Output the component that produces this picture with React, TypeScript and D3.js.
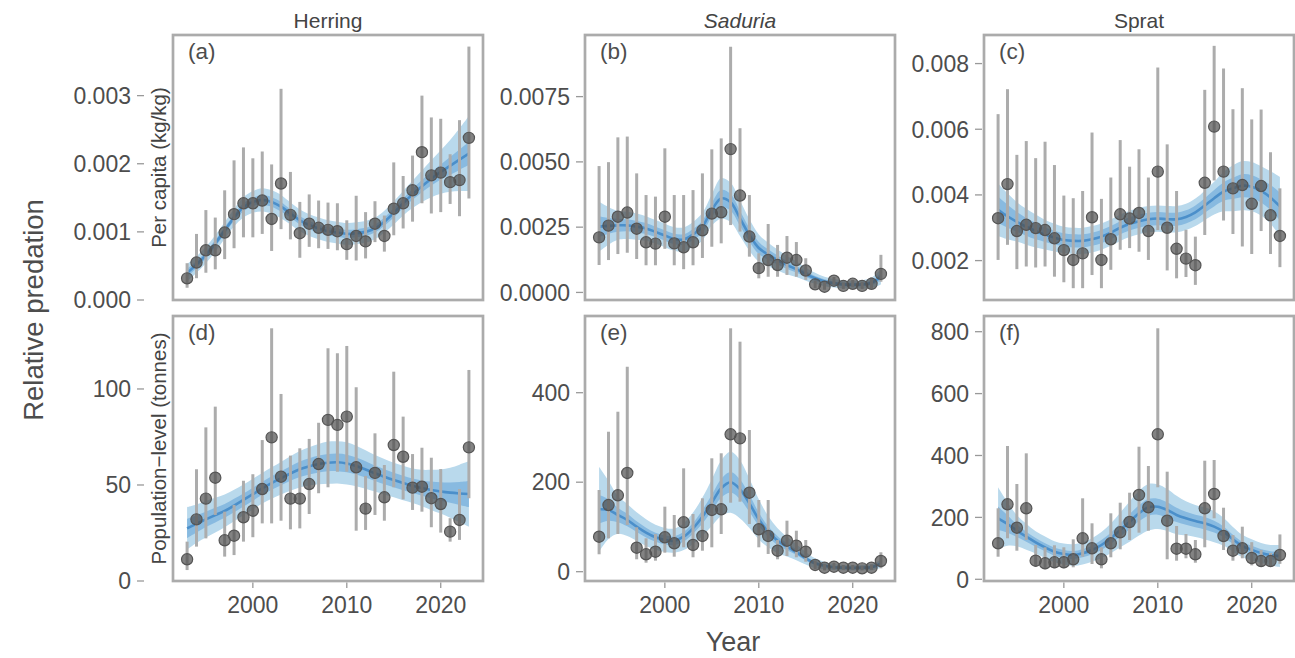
import React from 'react';
import * as d3 from 'd3';

const years = [1993,1994,1995,1996,1997,1998,1999,2000,2001,2002,2003,2004,2005,2006,2007,2008,2009,2010,2011,2012,2013,2014,2015,2016,2017,2018,2019,2020,2021,2022,2023];

const columnTitles = ['Herring', 'Saduria', 'Sprat'];
const rowTitles = ['Per capita (kg/kg)', 'Population\u2212level (tonnes)'];
const panelLetters = ['(a)', '(b)', '(c)', '(d)', '(e)', '(f)'];
const xTicks = [2000, 2010, 2020];

// (a) Herring, per capita
const aEst = [0.000318,0.00055,0.00073,0.00073,0.00099,0.00126,0.00142,0.00142,0.00146,0.00119,0.00171,0.00125,0.00098,0.00112,0.00106,0.00103,0.00101,0.00082,0.00094,0.00086,0.00112,0.00094,0.00134,0.00142,0.00161,0.00217,0.00183,0.00187,0.00173,0.00176,0.00238];
const aLo = [0.00018,0.00032,0.0004,0.00045,0.0006,0.00076,0.00092,0.00092,0.00097,0.00072,0.00104,0.00089,0.00062,0.00078,0.00076,0.00075,0.00073,0.00059,0.00058,0.00061,0.00085,0.00071,0.00095,0.00105,0.00115,0.00142,0.00127,0.00129,0.00141,0.00123,0.00149];
const aHi = [0.00054,0.00097,0.00132,0.00121,0.00161,0.00205,0.00224,0.00208,0.00218,0.00199,0.0031,0.00188,0.00144,0.00155,0.00146,0.00143,0.00142,0.00117,0.00153,0.00129,0.00145,0.00124,0.00202,0.00182,0.00212,0.003,0.00268,0.00266,0.00214,0.00264,0.00372];
const aFit = [0.0004,0.00052,0.00066,0.00083,0.00102,0.00121,0.00136,0.00144,0.00147,0.00144,0.00137,0.00127,0.00117,0.0011,0.00105,0.00101,0.00099,0.00097,0.00098,0.001,0.00105,0.00115,0.00128,0.00142,0.00155,0.00167,0.00178,0.00188,0.00197,0.00206,0.00215];
const aOuter = [0.00013,0.00012,0.00012,0.00012,0.00012,0.00013,0.00015,0.00016,0.00017,0.00017,0.00017,0.00016,0.00016,0.00016,0.00016,0.00016,0.00016,0.00016,0.00016,0.00016,0.00016,0.00016,0.00017,0.00018,0.0002,0.00023,0.00027,0.00032,0.00038,0.00046,0.00055];
const aInner = [0.00006,0.00005,0.00005,0.00005,0.00005,0.00005,0.00006,0.00006,0.00007,0.00007,0.00007,0.00006,0.00006,0.00006,0.00006,0.00006,0.00006,0.00006,0.00006,0.00006,0.00006,0.00006,0.00007,0.00007,0.00008,0.00009,0.0001,0.00011,0.00013,0.00015,0.00017];
const aTicks = [0, 0.001, 0.002, 0.003];

// (b) Saduria, per capita
const bEst = [0.00211,0.00256,0.0029,0.00306,0.00244,0.00192,0.00187,0.0029,0.00188,0.00173,0.00192,0.00238,0.00302,0.00307,0.00549,0.00371,0.00214,0.00093,0.00124,0.00105,0.00133,0.00124,0.00084,0.00031,0.00022,0.00045,0.00025,0.00033,0.00025,0.00033,0.00071];
const bLo = [0.00105,0.00124,0.00147,0.00152,0.00128,0.00104,0.00104,0.00167,0.00104,0.00089,0.00104,0.00132,0.00175,0.00188,0.00258,0.00233,0.00137,0.00054,0.0006,0.0006,0.00067,0.0006,0.00048,0.00016,0.0001,0.0003,0.00013,0.0002,0.00013,0.00015,0.00041];
const bHi = [0.00484,0.00499,0.00594,0.00597,0.00456,0.00373,0.00367,0.00552,0.00373,0.00373,0.00392,0.00456,0.00548,0.0059,0.00941,0.00629,0.00373,0.0015,0.00262,0.00182,0.00216,0.00193,0.00131,0.00045,0.0004,0.00059,0.00038,0.00048,0.0004,0.00058,0.00144];
const bFit = [0.00252,0.00255,0.00257,0.00257,0.00252,0.00245,0.00232,0.00218,0.00205,0.00203,0.00222,0.00252,0.00316,0.0036,0.00345,0.00284,0.0022,0.0017,0.00145,0.00124,0.00105,0.00089,0.0007,0.00054,0.00042,0.00035,0.00031,0.0003,0.00031,0.00037,0.0006];
const bOuter = [0.00095,0.00072,0.00055,0.00052,0.0005,0.00047,0.00045,0.00045,0.00045,0.00046,0.00048,0.00053,0.0006,0.00078,0.00075,0.00068,0.0006,0.00052,0.00045,0.0004,0.00035,0.0003,0.00025,0.00021,0.00018,0.00016,0.00015,0.00015,0.00016,0.0002,0.0003];
const bInner = [0.0004,0.0003,0.00025,0.00023,0.00022,0.00021,0.0002,0.0002,0.0002,0.0002,0.00021,0.00023,0.00026,0.00033,0.00032,0.00029,0.00026,0.00023,0.0002,0.00017,0.00015,0.00013,0.00011,0.00009,0.00008,0.00007,0.00007,0.00007,0.00007,0.00009,0.00013];
const bTicks = [0, 0.0025, 0.005, 0.0075];

// (c) Sprat, per capita
const cEst = [0.00329,0.00433,0.0029,0.00309,0.00299,0.00293,0.00268,0.00232,0.00202,0.00222,0.00332,0.00202,0.00265,0.00341,0.00328,0.00345,0.0029,0.00471,0.003,0.00236,0.00206,0.00186,0.00437,0.00608,0.00471,0.0042,0.0043,0.00373,0.00427,0.00338,0.00275];
const cLo = [0.00202,0.00248,0.00174,0.00182,0.00179,0.00182,0.00151,0.00134,0.00116,0.00116,0.00156,0.00116,0.00172,0.00233,0.00238,0.00227,0.00202,0.00293,0.0017,0.00146,0.0015,0.00126,0.00278,0.00444,0.00322,0.00281,0.00243,0.0022,0.0029,0.0022,0.0018];
const cHi = [0.00646,0.00722,0.00522,0.00564,0.00512,0.00562,0.00491,0.00398,0.0039,0.00412,0.0059,0.00388,0.00453,0.00567,0.00486,0.00539,0.00453,0.00788,0.00554,0.00412,0.00294,0.00273,0.0072,0.00854,0.00785,0.00661,0.00725,0.0063,0.0066,0.0053,0.0042];
const cFit = [0.00355,0.00335,0.00318,0.00303,0.0029,0.00279,0.0027,0.00263,0.0026,0.0026,0.00265,0.00273,0.00285,0.003,0.00312,0.0032,0.00326,0.00328,0.00326,0.00326,0.00333,0.00347,0.00368,0.0039,0.0041,0.0042,0.00428,0.00425,0.00412,0.00392,0.00365];
const cOuter = [0.0008,0.0007,0.0006,0.00055,0.0005,0.00045,0.00042,0.0004,0.0004,0.0004,0.0004,0.0004,0.0004,0.0004,0.0004,0.0004,0.0004,0.0004,0.0004,0.0004,0.0004,0.00042,0.00045,0.0005,0.0006,0.0007,0.00075,0.00075,0.00075,0.0008,0.0009];
const cInner = [0.0004,0.00035,0.0003,0.00027,0.00025,0.00022,0.00021,0.0002,0.0002,0.0002,0.0002,0.0002,0.0002,0.0002,0.0002,0.0002,0.0002,0.0002,0.0002,0.0002,0.0002,0.00021,0.00022,0.00025,0.00028,0.00032,0.00035,0.00035,0.00035,0.00038,0.00042];
const cTicks = [0.002, 0.004, 0.006, 0.008];

// (d) Herring, population level
const dEst = [11.3,32.1,42.9,53.8,21.2,23.6,33.2,36.6,47.9,74.8,54.3,42.9,42.9,50.5,60.9,83.9,81.3,85.6,59.2,37.7,56.3,43.6,70.8,64.7,48.6,49.1,43.1,40.1,25.7,31.8,69.6];
const dLo = [5.7,17.9,22.2,34.4,12.7,13.5,20.5,22.8,30,30,31.4,26.9,27.4,34.9,45.7,48.8,56.9,56.9,26.2,26.6,34.4,31.4,48.8,42.5,37,36.1,28,25.2,20.5,21.4,43.1];
const dHi = [20.5,58.2,80,90.8,36.1,39.6,52.2,55.6,73.4,131.6,97.4,65.3,69.1,74,82.4,121.2,118.6,122.4,100.9,54.7,76.9,60.4,109,85.6,66.1,69.4,64.2,58.3,32.7,47.9,109.9];
const dFit = [27.4,29.8,32.1,34.3,36.5,39.3,42.2,45.2,48.3,51,53.5,56,58.2,59.7,60.9,61.6,61.8,61.2,59.9,58.1,56.1,54.3,52.6,51,49.6,48.4,47.4,46.6,46,45.6,45.3];
const dOuter = [11,10,9.5,9,8.5,8.2,8,8,8,8.2,8.5,9,9.5,10,10.5,11,11,11,10.5,10,9.5,9.2,9,9,9,9.5,10.5,11.5,13,15,17];
const dInner = [5,4.5,4,3.8,3.6,3.5,3.4,3.4,3.4,3.5,3.6,3.8,4,4.2,4.4,4.5,4.6,4.6,4.4,4.2,4,3.9,3.8,3.8,3.8,4,4.4,4.8,5.3,6,6.8];
const dTicks = [0, 50, 100];

// (e) Saduria, population level
const eEst = [78.2,149,170.7,220.6,53.6,38.9,44.7,76.9,63.5,110.4,59.7,79.8,137.9,139.4,307,298,176.5,94.7,79.8,46.9,69.3,58.1,44.7,15,8.9,11.2,8.9,8.9,7.5,8.9,23.9];
const eLo = [38.9,74.6,84.2,104.4,27.7,20.1,24.6,42.5,33.5,54.5,32.2,46.9,54.5,84.2,154.2,156.4,106.6,54.5,39.6,27.7,35.1,32.2,22.3,5.4,3,5,4,4,3,4,7.6];
const eHi = [182.6,312.8,357.5,458,99.2,74.6,84.2,145.3,126.7,231,128.9,164,253.4,264.6,543.9,514,316.6,160.2,160.2,70.8,114,91.6,70.8,24.6,17,20,15,15,13,16,43.4];
const eFit = [139.4,138,126.7,115.5,100.6,87.2,76.9,70.8,69.3,78.2,97,122.9,154.2,186.4,199.8,184.1,152.8,117.1,89.4,69.3,55.9,43.4,29.9,18.8,13.4,10,9,8.5,9,10,17.9];
const eOuter = [95,65,42,36,32,30,28,27,27,30,35,43,52,62,68,65,55,45,35,28,22,18,14,11,8,7,6,6,6,7,9];
const eInner = [32,24,16,14,12,11,10,10,10,11,12,15,18,21,23,22,19,15,12,10,8,6,5,4,3,3,2.5,2.5,2.5,3,3.5];
const eTicks = [0, 200, 400];

// (f) Sprat, population level
const fEst = [116.3,242.3,166.7,229.4,60.1,51.7,54.9,54.9,64.6,132.5,100.2,64.6,116.3,151.9,185.1,272.4,232.6,468.5,189.3,98.9,98.9,80.8,229.4,275.6,139.9,92.4,100.2,68.8,59,59,78.5];
const fLo = [73,132.5,92.4,127,40.7,32.3,35.5,35.5,38.8,73,49.4,35.5,71.1,96.9,127,150.6,157,297.3,64.6,60.1,67.9,53.6,103.4,197.1,94.7,60.1,67.9,45,40,40,50];
const fHi = [229.4,430.7,307.9,407,110.8,103.4,109.9,103.4,129.2,261.7,180.9,103.4,213.2,247.5,279.8,428.4,366,811,347.7,172.2,146.4,127,383.2,385.5,231.3,143.1,170,120,95,85,145];
const fFit = [197,178.7,157,137.6,119.5,103.4,89.2,81.7,78.5,84,94.7,110.8,132.5,159.3,186.1,213.2,232.6,234.6,224,207.8,197,188.4,180.9,170,153.8,129.2,107.6,95,85,78,75];
const fOuter = [100,70,50,42,36,35,34,34,35,36,38,42,48,56,65,72,75,72,68,62,55,52,52,50,45,40,36,34,32,33,36];
const fInner = [38,28,20,16,14,13,13,13,13,13,14,16,18,21,24,26,27,26,25,23,21,20,20,19,17,15,14,13,12,13,14];
const fTicks = [0, 200, 400, 600, 800];

const panels = [
  { col: 0, row: 0, est: aEst, lo: aLo, hi: aHi, fit: aFit, outer: aOuter, inner: aInner, ticks: aTicks, domain: [0, 0.00389], fmt: '.3f' },
  { col: 1, row: 0, est: bEst, lo: bLo, hi: bHi, fit: bFit, outer: bOuter, inner: bInner, ticks: bTicks, domain: [-0.00029, 0.00986], fmt: '.4f' },
  { col: 2, row: 0, est: cEst, lo: cLo, hi: cHi, fit: cFit, outer: cOuter, inner: cInner, ticks: cTicks, domain: [0.0008, 0.00887], fmt: '.3f' },
  { col: 0, row: 1, est: dEst, lo: dLo, hi: dHi, fit: dFit, outer: dOuter, inner: dInner, ticks: dTicks, domain: [0, 138], fmt: 'd' },
  { col: 1, row: 1, est: eEst, lo: eLo, hi: eHi, fit: eFit, outer: eOuter, inner: eInner, ticks: eTicks, domain: [-20.8, 571.4], fmt: 'd' },
  { col: 2, row: 1, est: fEst, lo: fLo, hi: fHi, fit: fFit, outer: fOuter, inner: fInner, ticks: fTicks, domain: [-5.5, 850.7], fmt: 'd' },
];

const W = 1295;
const H = 658;
const colLeft = [173, 585, 984];
const rowTop = [35, 316];
const PW = 310;
const PH = 265;
const FONT = 'Liberation Sans, Arial, Helvetica, sans-serif';
const TEXT = '#4d4d4d';
const BORDER = '#ababab';

function Panel({ p, idx }: { p: any; idx: number }) {
  const left = colLeft[p.col];
  const top = rowTop[p.row];
  const x = d3.scaleLinear().domain([1991.5, 2024.5]).range([left, left + PW]);
  const y = d3.scaleLinear().domain(p.domain).range([top + PH, top]);
  const curve = d3.curveCatmullRom.alpha(0.5);
  const idxs = years.map((_, i) => i);
  const outerArea = d3.area<number>().x(i => x(years[i])).y0(i => y(p.fit[i] - p.outer[i])).y1(i => y(p.fit[i] + p.outer[i])).curve(curve);
  const innerArea = d3.area<number>().x(i => x(years[i])).y0(i => y(p.fit[i] - p.inner[i])).y1(i => y(p.fit[i] + p.inner[i])).curve(curve);
  const line = d3.line<number>().x(i => x(years[i])).y(i => y(p.fit[i])).curve(curve);
  const fmt = d3.format(p.fmt);
  const axisX = p.col === 0 ? 144 : left - 2;
  const clipId = `clip-${idx}`;
  return (
    <g>
      <defs>
        <clipPath id={clipId}>
          <rect x={left} y={top} width={PW} height={PH} />
        </clipPath>
      </defs>
      <g clipPath={`url(#${clipId})`}>
        <path d={outerArea(idxs) || ''} fill="#b9d9ec" />
        <path d={innerArea(idxs) || ''} fill="#88bae0" />
        <path d={line(idxs) || ''} fill="none" stroke="#4b8fca" strokeWidth={2.6} />
        {years.map((yr, i) => (
          <line key={`e${i}`} x1={x(yr)} x2={x(yr)} y1={y(p.lo[i])} y2={y(p.hi[i])} stroke="#acacac" strokeWidth={3} />
        ))}
        {years.map((yr, i) => (
          <circle key={`p${i}`} cx={x(yr)} cy={y(p.est[i])} r={5.6} fill="#4f4f4f" fillOpacity={0.7} stroke="#555" strokeWidth={1.2} />
        ))}
      </g>
      <rect x={left} y={top} width={PW} height={PH} fill="none" stroke={BORDER} strokeWidth={2.7} />
      <text x={left + 15} y={top + 24} fontSize={22.5} fill={TEXT} fontFamily={FONT}>{panelLetters[idx]}</text>
      {p.ticks.map((t: number) => (
        <g key={`t${t}`}>
          <line x1={axisX - 7} x2={axisX} y1={y(t)} y2={y(t)} stroke="#999" strokeWidth={1.3} />
          <text x={axisX - 13} y={y(t)} dy="0.36em" textAnchor="end" fontSize={23} fill={TEXT} fontFamily={FONT}>{fmt(t)}</text>
        </g>
      ))}
      {p.row === 1 && xTicks.map(t => (
        <g key={`x${t}`}>
          <line x1={x(t)} x2={x(t)} y1={top + PH + 1.4} y2={top + PH + 7} stroke="#999" strokeWidth={1.3} />
          <text x={x(t)} y={top + PH + 32} textAnchor="middle" fontSize={23} fill={TEXT} fontFamily={FONT}>{t}</text>
        </g>
      ))}
    </g>
  );
}

export default function App() {
  return (
    <svg width={W} height={H} style={{ position: 'absolute', left: 0, top: 0, background: '#fff' }}>
      <rect x={0} y={0} width={W} height={H} fill="#fff" />
      {columnTitles.map((t, i) => (
        <text key={t} x={colLeft[i] + PW / 2} y={28} textAnchor="middle" fontSize={21} fill="#444" fontFamily={FONT} fontStyle={i === 1 ? 'italic' : 'normal'}>{t}</text>
      ))}
      {rowTitles.map((t, i) => (
        <text key={t} transform={`translate(166,${rowTop[i] + PH / 2}) rotate(-90)`} textAnchor="middle" fontSize={20.5} fill="#444" fontFamily={FONT}>{t}</text>
      ))}
      {panels.map((p, i) => <Panel key={i} p={p} idx={i} />)}
      <text x={733} y={651} textAnchor="middle" fontSize={27} fill={TEXT} fontFamily={FONT}>Year</text>
      <text transform={`translate(43,310) rotate(-90)`} textAnchor="middle" fontSize={27.5} fill={TEXT} fontFamily={FONT}>Relative predation</text>
    </svg>
  );
}
